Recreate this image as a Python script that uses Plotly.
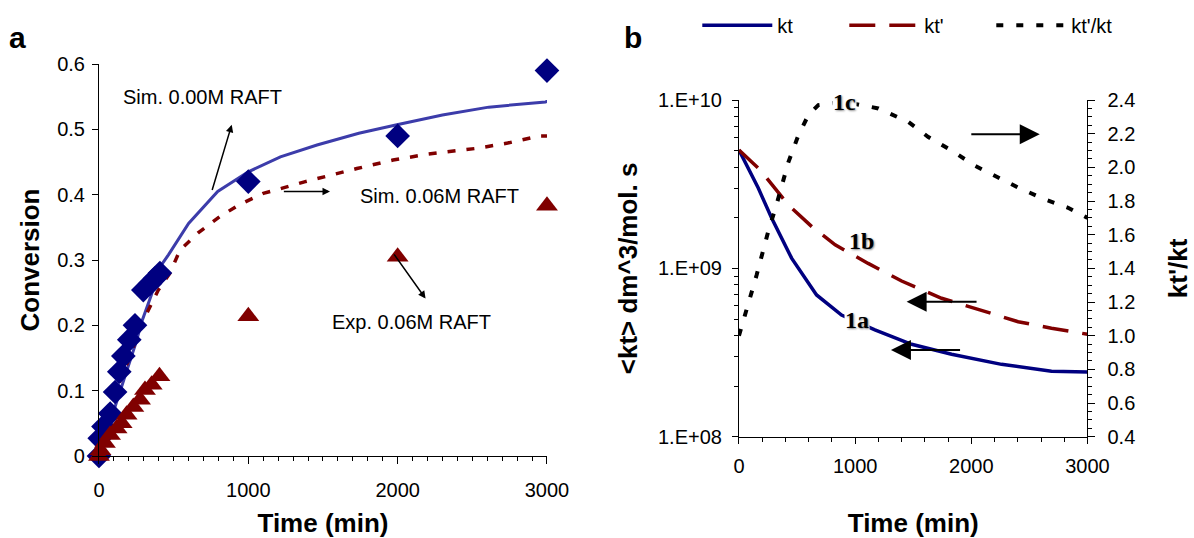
import plotly.graph_objects as go

# ---------------- Panel a data ----------------
exp0_t = [0, 5, 30, 75, 108, 136, 163, 203, 241, 297, 342, 375, 408, 1000, 2000, 3000]
exp0_c = [0.0, 0.027, 0.045, 0.065, 0.098, 0.129, 0.153, 0.178, 0.200, 0.254, 0.264, 0.272, 0.280, 0.42, 0.49, 0.59]

exp6_t = [0, 10, 40, 74, 118, 152, 185, 230, 275, 308, 353, 405, 1000, 2000, 3000]
exp6_c = [0.0, 0.009, 0.020, 0.032, 0.042, 0.050, 0.063, 0.075, 0.086, 0.101, 0.109, 0.122, 0.214, 0.305, 0.383]

sim0_t = [0, 50, 100, 150, 200, 250, 290, 350, 410, 465, 600, 795, 1000, 1215, 1460, 1740, 1995, 2300, 2610, 2990, 3075]
sim0_c = [0.0, 0.035, 0.070, 0.105, 0.140, 0.175, 0.208, 0.246, 0.290, 0.308, 0.356, 0.405, 0.435, 0.458, 0.476, 0.494, 0.507, 0.522, 0.534, 0.542, 0.549]

sim6_t = [0, 50, 100, 141, 208, 263, 319, 397, 475, 542, 666, 807, 934, 1100, 1228, 1382, 1727, 1969, 2200, 2532, 2737, 2950, 3000]
sim6_c = [0.0, 0.040, 0.082, 0.116, 0.152, 0.188, 0.218, 0.254, 0.280, 0.315, 0.342, 0.366, 0.384, 0.402, 0.410, 0.420, 0.440, 0.453, 0.462, 0.471, 0.479, 0.490, 0.490]

# ---------------- Panel b data ----------------
kt_t = [0, 166, 281, 453, 668, 883, 1170, 1486, 1830, 2260, 2690, 3000]
kt_v = [5.05e9, 3.0e9, 1.99e9, 1.15e9, 6.95e8, 5.28e8, 4.31e8, 3.54e8, 3.09e8, 2.69e8, 2.45e8, 2.42e8]

ktp_t = [0, 181, 425, 627, 828, 1112, 1400, 1744, 2030, 2403, 2690, 3000]
ktp_v = [5.05e9, 3.85e9, 2.38e9, 1.77e9, 1.38e9, 1.07e9, 8.41e8, 6.64e8, 5.79e8, 4.82e8, 4.41e8, 4.06e8]

ratio_t = [0, 80, 152, 252, 324, 425, 511, 597, 683, 900, 1200, 1457, 1630, 1830, 2030, 2202, 2403, 2632, 2833, 3000]
ratio_v = [1.0, 1.18, 1.36, 1.62, 1.78, 2.03, 2.19, 2.31, 2.37, 2.39, 2.35, 2.27, 2.18, 2.10, 2.01, 1.95, 1.88, 1.81, 1.76, 1.70]

time_ticks = [0, 1000, 2000, 3000]
log_ticks = [1e8, 1e9, 1e10]
log_tick_text = ["1.E+08", "1.E+09", "1.E+10"]
log_minor = [m * 10 ** e for e in (8, 9) for m in range(2, 10)]

FONT = "Liberation Sans, Arial, sans-serif"
NAVY = "#000080"
MBLUE = "#3C3CAA"
DRED = "#800000"

fig = go.Figure()

# panel a
fig.add_trace(go.Scatter(x=sim0_t, y=sim0_c, mode="lines", line=dict(color=MBLUE, width=3),
                         xaxis="x", yaxis="y", showlegend=False, name="Sim. 0.00M RAFT"))
fig.add_trace(go.Scatter(x=sim6_t, y=sim6_c, mode="lines", line=dict(color=DRED, width=3.5, dash="8px,11px"),
                         xaxis="x", yaxis="y", showlegend=False, name="Sim. 0.06M RAFT"))
fig.add_trace(go.Scatter(x=exp0_t, y=exp0_c, mode="markers", cliponaxis=False,
                         marker=dict(symbol="diamond", size=19, color=NAVY, line=dict(width=0)),
                         xaxis="x", yaxis="y", showlegend=False, name="Exp. 0.00M RAFT"))
fig.add_trace(go.Scatter(x=exp6_t, y=exp6_c, mode="markers", cliponaxis=False,
                         marker=dict(symbol="triangle-up", size=19, color=DRED, line=dict(width=0)),
                         xaxis="x", yaxis="y", showlegend=False, name="Exp. 0.06M RAFT"))

# panel b
fig.add_trace(go.Scatter(x=kt_t, y=kt_v, mode="lines", name="kt", line=dict(color=NAVY, width=3.5),
                         xaxis="x2", yaxis="y2"))
fig.add_trace(go.Scatter(x=ktp_t, y=ktp_v, mode="lines", name="kt'",
                         line=dict(color=DRED, width=3.5, dash="26px,14px"), xaxis="x2", yaxis="y2"))
fig.add_trace(go.Scatter(x=ratio_t, y=ratio_v, mode="lines", name="kt'/kt",
                         line=dict(color="black", width=4, dash="7px,13px"), xaxis="x2", yaxis="y3"))

axis_common = dict(showline=True, linecolor="black", linewidth=1, showgrid=False, zeroline=False,
                   ticks="outside", tickcolor="black", tickfont=dict(family=FONT, size=20, color="black"))
title_font = dict(family=FONT, size=26, color="black", weight="bold")

fig.update_layout(
    width=1194, height=538,
    margin=dict(l=0, r=0, t=0, b=0),
    paper_bgcolor="white", plot_bgcolor="white",
    font=dict(family=FONT, size=20, color="black"),
    xaxis=dict(**axis_common, domain=[0.0829, 0.4581], range=[0, 3000], anchor="y",
               tickvals=time_ticks, ticklen=7, ticklabelstandoff=9,
               minor=dict(dtick=100, ticklen=4, ticks="outside", tickcolor="black"),
               title=dict(text="Time (min)", font=title_font, standoff=15), automargin=False),
    yaxis=dict(**axis_common, domain=[0.1524, 0.8810], range=[0, 0.6], anchor="x",
               dtick=0.1, ticklen=6, ticklabelstandoff=3,
               title=dict(text="Conversion", font=title_font, standoff=10), automargin=False),
    xaxis2=dict(**axis_common, domain=[0.6189, 0.9108], range=[0, 3000], anchor="y2",
                tickvals=time_ticks, ticklen=6, ticklabelstandoff=5,
                minor=dict(dtick=200, ticklen=4, ticks="outside", tickcolor="black"),
                title=dict(text="Time (min)", font=title_font, standoff=41), automargin=False),
    yaxis2=dict(**axis_common, domain=[0.1883, 0.8141], type="log", range=[8, 10], anchor="x2",
                tickvals=log_ticks, ticktext=log_tick_text, ticklen=6, ticklabelstandoff=6,
                minor=dict(tickvals=log_minor, ticklen=4, ticks="outside", tickcolor="black"),
                title=dict(text="<kt> dm^3/mol. s", font=title_font, standoff=12), automargin=False),
    yaxis3=dict(**axis_common, overlaying="y2", side="right", anchor="x2", range=[0.4, 2.4],
                dtick=0.2, tickformat=".1f", ticklen=7, ticklabelstandoff=8,
                minor=dict(dtick=0.05, ticklen=4, ticks="outside", tickcolor="black"),
                title=dict(text="kt'/kt", font=title_font, standoff=34), automargin=False),
    legend=dict(orientation="h", x=0.584, y=0.953, xanchor="left", yanchor="middle",
                font=dict(family=FONT, size=20, color="black"), bgcolor="rgba(0,0,0,0)",
                itemwidth=70, entrywidth=62, entrywidthmode="pixels", tracegroupgap=0),
)

ann_font = dict(family=FONT, size=20, color="black")
serif_font = dict(family="Liberation Serif, Times New Roman, serif", size=24, color="black",
                  weight="bold", shadow="1px 1px 2px #888")
annotations = [
    dict(text="a", x=0.015, y=0.931, xref="paper", yref="paper", xanchor="center", yanchor="middle",
         showarrow=False, font=dict(family=FONT, size=30, color="black", weight="bold")),
    dict(text="b", x=0.530, y=0.931, xref="paper", yref="paper", xanchor="center", yanchor="middle",
         showarrow=False, font=dict(family=FONT, size=30, color="black", weight="bold")),
    # panel a labels
    dict(text="Exp. 0.00M RAFT", x=1908, y=0.646, xref="x", yref="y", showarrow=False, font=ann_font),
    dict(text="Sim. 0.00M RAFT", x=690, y=0.550, xref="x", yref="y", showarrow=False, font=ann_font),
    dict(text="Sim. 0.06M RAFT", x=2283, y=0.398, xref="x", yref="y", showarrow=False, font=ann_font),
    dict(text="Exp. 0.06M RAFT", x=2096, y=0.205, xref="x", yref="y", showarrow=False, font=ann_font),
    # panel a arrows
    dict(text="", x=2518, y=0.632, ax=2953, ay=0.606, xref="x", yref="y", axref="x", ayref="y",
         showarrow=True, arrowhead=2, arrowsize=1, arrowwidth=1.5, arrowcolor="black"),
    dict(text="", x=889, y=0.507, ax=755, ay=0.405, xref="x", yref="y", axref="x", ayref="y",
         showarrow=True, arrowhead=2, arrowsize=1, arrowwidth=1.5, arrowcolor="black"),
    dict(text="", x=1547, y=0.405, ax=1228, ay=0.405, xref="x", yref="y", axref="x", ayref="y",
         showarrow=True, arrowhead=2, arrowsize=1, arrowwidth=1.5, arrowcolor="black"),
    dict(text="", x=2187, y=0.241, ax=1969, ay=0.311, xref="x", yref="y", axref="x", ayref="y",
         showarrow=True, arrowhead=2, arrowsize=1, arrowwidth=1.5, arrowcolor="black"),
    # panel b labels (white boxes break the curves, as in the original)
    dict(text="1c", x=912, y=2.39, xref="x2", yref="y3", showarrow=False, font=serif_font,
         bgcolor="white", borderpad=0),
    dict(text="1b", x=1055, y=1.56, xref="x2", yref="y3", showarrow=False, font=serif_font,
         bgcolor="white", borderpad=0),
    dict(text="1a", x=1012, y=1.093, xref="x2", yref="y3", showarrow=False, font=serif_font,
         bgcolor="white", borderpad=0),
    # panel b arrows
    dict(text="", x=2589, y=2.197, ax=1987, ay=2.197, xref="x2", yref="y3", axref="x2", ayref="y3",
         showarrow=True, arrowhead=2, arrowsize=2, arrowwidth=2, arrowcolor="black"),
    dict(text="", x=1443, y=1.202, ax=2058, ay=1.202, xref="x2", yref="y3", axref="x2", ayref="y3",
         showarrow=True, arrowhead=2, arrowsize=2, arrowwidth=2, arrowcolor="black"),
    dict(text="", x=1308, y=0.915, ax=1916, ay=0.915, xref="x2", yref="y3", axref="x2", ayref="y3",
         showarrow=True, arrowhead=2, arrowsize=2, arrowwidth=2, arrowcolor="black"),
]
fig.update_layout(annotations=annotations)

fig.write_html("out.html")
